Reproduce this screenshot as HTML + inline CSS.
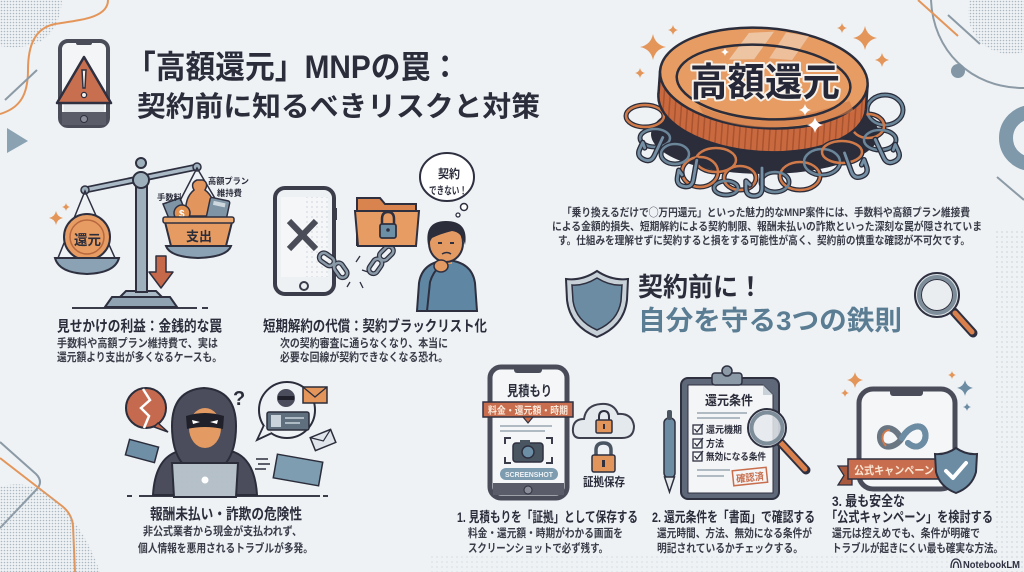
<!DOCTYPE html>
<html lang="ja">
<head>
<meta charset="utf-8">
<style>
html,body{margin:0;padding:0;background:#eef2f5;}
body{width:1024px;height:572px;overflow:hidden;}
svg{display:block;font-family:"Liberation Sans","Noto Sans CJK JP",sans-serif;}
</style>
</head>
<body>
<svg width="1024" height="572" viewBox="0 0 1024 572" xmlns="http://www.w3.org/2000/svg">
<defs>
  <pattern id="dots" width="3" height="3" patternUnits="userSpaceOnUse"><circle cx="1.5" cy="1.5" r="0.8" fill="#9aa8b4"/></pattern>
  <pattern id="dotsL" width="5" height="5" patternUnits="userSpaceOnUse"><circle cx="2" cy="2" r="0.6" fill="#b3bec7"/></pattern>
  <pattern id="ribs" width="6" height="10" patternUnits="userSpaceOnUse"><rect width="6" height="10" fill="#c8693f"/><rect x="4" width="1.5" height="10" fill="#a9532f"/></pattern>
  <symbol id="sp" viewBox="-10 -10 20 20"><path d="M0,-10 Q1.7,-1.7 10,0 Q1.7,1.7 0,10 Q-1.7,1.7 -10,0 Q-1.7,-1.7 0,-10Z"/></symbol>
  <path id="hk" d="M0,-16 L0,4 Q0,12 -8,12 Q-16,12 -16,4 L-16,-3 L-12,1"/>
</defs>

<rect width="1024" height="572" fill="#eef2f5"/>

<!-- ===== decorations ===== -->
<path d="M0,0 L62,0 Q60,30 40,42 Q20,50 0,46 Z" fill="url(#dots)" opacity="0.8"/>
<path d="M108,0 C108,18 80,20 55,24 C35,28 28,45 28,70 C28,95 20,108 0,114" fill="none" stroke="#e4965a" stroke-width="2"/>
<line x1="37" y1="70" x2="5" y2="100" stroke="#8c9aa6" stroke-width="2"/>
<polygon points="7,128 7,153 28,141" fill="#8aa2b2"/>

<path d="M0,442 L36,474 Q44,482 36,490 L0,528" fill="none" stroke="#8c9aa6" stroke-width="2"/>
<path d="M0,458 L62,506 Q72,514 73,526 L75,572" fill="none" stroke="#e4965a" stroke-width="2"/>
<path d="M0,487 Q30,478 55,500 Q85,528 100,572 L0,572 Z" fill="url(#dots)" opacity="0.8"/>

<circle cx="1010" cy="12" r="42" fill="url(#dots)" opacity="0.8"/>
<path d="M931,0 C933,50 970,88 1024,88" fill="none" stroke="#8c9aa6" stroke-width="2"/>
<circle cx="958" cy="71" r="7" fill="#8296a6"/>
<line x1="918" y1="0" x2="958" y2="36" stroke="#e4965a" stroke-width="2"/>
<line x1="948" y1="15" x2="980" y2="44" stroke="#8c9aa6" stroke-width="2"/>
<circle cx="1032" cy="138" r="26" fill="none" stroke="#7f98aa" stroke-width="14"/>
<line x1="997" y1="177" x2="1024" y2="200" stroke="#8c9aa6" stroke-width="2"/>
<rect x="995" y="230" width="29" height="342" fill="url(#dotsL)"/>
<rect x="430" y="556" width="594" height="16" fill="url(#dotsL)" opacity="0.7"/>

<!-- ===== Title ===== -->
<g>
  <rect x="60" y="41" width="48" height="85" rx="8" fill="#f3f5f7" stroke="#4a4c58" stroke-width="4"/>
  <rect x="76" y="41" width="16" height="4" rx="2" fill="#4a4c58"/>
  <rect x="62" y="112" width="44" height="13" fill="#5a5c68"/>
  <circle cx="84" cy="119" r="3.5" fill="#8a8c98" stroke="#2e3040" stroke-width="1"/>
  <rect x="64" y="104" width="40" height="8" fill="#e4e8eb"/>
  <path d="M84,57 L111,103 L57,103 Z" fill="#c86f50" stroke="#2e3040" stroke-width="2.5" stroke-linejoin="round"/>
  <path d="M82,70 L86,70 L85,88 L83,88 Z" fill="#f6efe9" stroke="#2e3040" stroke-width="1.5"/>
  <circle cx="84" cy="95" r="2.6" fill="#f6efe9" stroke="#2e3040" stroke-width="1.3"/>
</g>
<text x="126" y="78" font-size="32" font-weight="700" fill="#2b2d3b" textLength="334" lengthAdjust="spacingAndGlyphs">「高額還元」MNPの罠：</text>
<text x="137" y="116" font-size="28" font-weight="700" fill="#2b2d3b" textLength="403" lengthAdjust="spacingAndGlyphs">契約前に知るべきリスクと対策</text>

<!-- ===== Scale ===== -->
<g>
  <line x1="72" y1="308" x2="197" y2="308" stroke="#3a3c4a" stroke-width="2"/>
  <line x1="202" y1="308" x2="208" y2="308" stroke="#3a3c4a" stroke-width="2"/>
  <path d="M105,307 L112,297 L170,297 L177,307 Z" fill="#8fa3b3" stroke="#2e3040" stroke-width="2"/>
  <path d="M120,297 L126,291 L156,291 L162,297 Z" fill="#a9b9c5" stroke="#2e3040" stroke-width="2"/>
  <rect x="136" y="178" width="11" height="114" fill="#9fb0bd" stroke="#2e3040" stroke-width="2"/>
  <line x1="85" y1="190" x2="197" y2="167" stroke="#2e3040" stroke-width="7" stroke-linecap="round"/>
  <line x1="85" y1="190" x2="197" y2="167" stroke="#a9b9c5" stroke-width="3.5" stroke-linecap="round"/>
  <circle cx="141" cy="180" r="8" fill="#9fb0bd" stroke="#2e3040" stroke-width="2"/>
  <circle cx="141" cy="163" r="5" fill="#9fb0bd" stroke="#2e3040" stroke-width="2"/>
  <circle cx="85" cy="190" r="4" fill="#9fb0bd" stroke="#2e3040" stroke-width="1.5"/>
  <circle cx="197" cy="167" r="4" fill="#9fb0bd" stroke="#2e3040" stroke-width="1.5"/>
  <path d="M58,258 L85,191 L115,258" fill="none" stroke="#2e3040" stroke-width="1.5"/>
  <circle cx="87" cy="237" r="23" fill="#e69c62" stroke="#2e3040" stroke-width="2"/>
  <circle cx="87" cy="237" r="17" fill="none" stroke="#b8683f" stroke-width="1.5"/>
  <text x="74" y="245" font-size="14" font-weight="700" fill="#2b2d3b" textLength="27" lengthAdjust="spacingAndGlyphs">還元</text>
  <path d="M55,258 L119,258 Q115,273 87,274 Q59,273 55,258 Z" fill="#8aa2b4" stroke="#2e3040" stroke-width="2"/>
  <path d="M169,222 L197,168 L229,222" fill="none" stroke="#2e3040" stroke-width="1.5"/>
  <polygon points="163,204 180,198 189,220 172,226" fill="#7f95a6" stroke="#2e3040" stroke-width="1.5"/>
  <path d="M194,190 Q190,183 197,180 L203,180 Q209,183 205,190 Q216,198 214,216 L186,216 Q184,198 194,190 Z" fill="#e2955c" stroke="#2e3040" stroke-width="1.5"/>
  <circle cx="182" cy="213" r="8" fill="#e0904f" stroke="#2e3040" stroke-width="1.5"/>
  <text x="179" y="217" font-size="10" font-weight="700" fill="#fff">$</text>
  <rect x="208" y="199" width="20" height="22" rx="2" fill="#7f95a6" stroke="#2e3040" stroke-width="1.5" transform="rotate(12 218 210)"/>
  <rect x="212" y="202" width="12" height="4" fill="#cfd8df" transform="rotate(12 218 210)"/>
  <path d="M165,222 L232,222 L226,246 L171,246 Z" fill="#e59b61" stroke="#2e3040" stroke-width="2"/>
  <rect x="163" y="217" width="71" height="6" rx="2" fill="#eaa66d" stroke="#2e3040" stroke-width="1.5"/>
  <text x="186" y="241" font-size="13" font-weight="700" fill="#2b2d3b" textLength="26" lengthAdjust="spacingAndGlyphs">支出</text>
  <path d="M166,246 L231,246 Q227,257 198,258 Q170,257 166,246 Z" fill="#8aa2b4" stroke="#2e3040" stroke-width="2"/>
  <path d="M156,256 L166,256 L166,272 L173,272 L161,288 L149,272 L156,272 Z" fill="#c5694a" stroke="#2e3040" stroke-width="1.5" stroke-linejoin="round"/>
  <use href="#sp" x="49" y="211" width="14" height="14" fill="#e4965a"/>
  <use href="#sp" x="62" y="203" width="8" height="8" fill="#e4965a"/>
  <text x="157" y="200" font-size="8" font-weight="700" fill="#2b2d3b" textLength="25" lengthAdjust="spacingAndGlyphs">手数料</text>
  <text x="208" y="184" font-size="8.5" font-weight="700" fill="#2b2d3b" textLength="41" lengthAdjust="spacingAndGlyphs">高額プラン</text>
  <text x="217" y="196" font-size="8.5" font-weight="700" fill="#2b2d3b" textLength="25" lengthAdjust="spacingAndGlyphs">維持費</text>
</g>
<text x="57" y="331" font-size="15" font-weight="700" fill="#2b2d3b" textLength="165" lengthAdjust="spacingAndGlyphs">見せかけの利益：金銭的な罠</text>
<text x="57" y="347" font-size="11.5" font-weight="700" fill="#3a3c48" textLength="161" lengthAdjust="spacingAndGlyphs">手数料や高額プラン維持費で、実は</text>
<text x="57" y="361" font-size="11.5" font-weight="700" fill="#3a3c48" textLength="165" lengthAdjust="spacingAndGlyphs">還元額より支出が多くなるケースも。</text>

<!-- ===== Phone X / blacklist ===== -->
<g>
  <rect x="275" y="188" width="59" height="106" rx="10" fill="#eef1f4" stroke="#3b3d4b" stroke-width="4"/>
  <rect x="281" y="197" width="47" height="80" fill="#f5f6f8"/>
  <rect x="305" y="197" width="23" height="80" fill="url(#dotsL)"/>
  <line x1="289" y1="221" x2="316" y2="249" stroke="#4a4c58" stroke-width="6"/>
  <line x1="316" y1="221" x2="289" y2="249" stroke="#4a4c58" stroke-width="6"/>
  <circle cx="304" cy="286" r="4" fill="none" stroke="#3b3d4b" stroke-width="2"/>
  <rect x="334" y="208" width="3" height="12" fill="#3b3d4b"/>
  <g fill="none" stroke="#2e3040" stroke-width="5">
    <rect x="319" y="255" width="16" height="9" rx="4.5" transform="rotate(35 327 259)"/>
    <rect x="333" y="266" width="16" height="9" rx="4.5" transform="rotate(55 341 270)"/>
    <rect x="367" y="262" width="16" height="9" rx="4.5" transform="rotate(-55 375 266)"/>
    <rect x="378" y="249" width="16" height="9" rx="4.5" transform="rotate(-45 386 253)"/>
  </g>
  <g fill="none" stroke="#8a9aa7" stroke-width="2.5">
    <rect x="319" y="255" width="16" height="9" rx="4.5" transform="rotate(35 327 259)"/>
    <rect x="333" y="266" width="16" height="9" rx="4.5" transform="rotate(55 341 270)"/>
    <rect x="367" y="262" width="16" height="9" rx="4.5" transform="rotate(-55 375 266)"/>
    <rect x="378" y="249" width="16" height="9" rx="4.5" transform="rotate(-45 386 253)"/>
  </g>
  <g stroke="#2e3040" stroke-width="1.3">
    <line x1="356" y1="262" x2="360" y2="256"/><line x1="350" y1="282" x2="347" y2="287"/>
    <line x1="360" y1="282" x2="363" y2="288"/><line x1="362" y1="270" x2="368" y2="272"/>
  </g>
  <path d="M357,198 L380,198 L385,204 L416,204 L416,245 L357,245 Z" fill="#d9844f" stroke="#2e3040" stroke-width="2"/>
  <path d="M355,211 L419,211 L416,246 L358,246 Z" fill="#e69c62" stroke="#2e3040" stroke-width="2"/>
  <path d="M382,225 V219 Q382,212 388,212 Q394,212 394,219 V225" fill="none" stroke="#2e3040" stroke-width="2.5"/>
  <rect x="380" y="224" width="16" height="14" rx="2" fill="#6d8fa6" stroke="#2e3040" stroke-width="1.8"/>
  <circle cx="388" cy="230" r="1.8" fill="#2e3040"/>
  <path d="M417,311 L419,283 Q422,262 447,260 Q472,262 475,283 L477,311 Z" fill="#5f87a4" stroke="#2e3040" stroke-width="2"/>
  <rect x="441" y="255" width="11" height="9" fill="#e49a63"/>
  <ellipse cx="446" cy="243" rx="17" ry="19" fill="#e49a63" stroke="#2e3040" stroke-width="2"/>
  <path d="M428,245 Q424,221 446,221 Q469,221 465,245 Q462,232 452,231 Q440,234 432,238 Z" fill="#2b2d3b"/>
  <line x1="438" y1="243" x2="442" y2="243" stroke="#2e3040" stroke-width="2"/>
  <line x1="450" y1="243" x2="454" y2="243" stroke="#2e3040" stroke-width="2"/>
  <path d="M442,254 Q447,251 451,254" fill="none" stroke="#2e3040" stroke-width="1.5"/>
  <path d="M427,311 L430,282 Q433,272 440,266" fill="none" stroke="#2e3040" stroke-width="2"/>
  <ellipse cx="441" cy="266" rx="7" ry="6" fill="#e49a63" stroke="#2e3040" stroke-width="1.5"/>
  <ellipse cx="447" cy="177" rx="27" ry="24" fill="#ffffff" stroke="#2e3040" stroke-width="2"/>
  <circle cx="464" cy="207" r="3.5" fill="#fff" stroke="#2e3040" stroke-width="1.5"/>
  <circle cx="458" cy="215" r="2" fill="#fff" stroke="#2e3040" stroke-width="1.3"/>
  <text x="438" y="178" font-size="12" font-weight="700" fill="#2b2d3b" textLength="22" lengthAdjust="spacingAndGlyphs">契約</text>
  <text x="429" y="194" font-size="10.5" font-weight="700" fill="#2b2d3b" textLength="38" lengthAdjust="spacingAndGlyphs">できない！</text>
</g>
<text x="263" y="331" font-size="15" font-weight="700" fill="#2b2d3b" textLength="224" lengthAdjust="spacingAndGlyphs">短期解約の代償：契約ブラックリスト化</text>
<text x="280" y="347" font-size="11.5" font-weight="700" fill="#3a3c48" textLength="168" lengthAdjust="spacingAndGlyphs">次の契約審査に通らなくなり、本当に</text>
<text x="280" y="361" font-size="11.5" font-weight="700" fill="#3a3c48" textLength="168" lengthAdjust="spacingAndGlyphs">必要な回線が契約できなくなる恐れ。</text>

<!-- ===== Hacker ===== -->
<g>
  <line x1="127" y1="496" x2="132" y2="496" stroke="#3a3c4a" stroke-width="2"/>
  <line x1="139" y1="496" x2="320" y2="496" stroke="#3a3c4a" stroke-width="2"/>
  <line x1="323" y1="496" x2="328" y2="496" stroke="#3a3c4a" stroke-width="2"/>
  <path d="M153,495 Q155,460 176,452 L234,452 Q255,460 257,495 Z" fill="#4b4d5c" stroke="#2b2d3b" stroke-width="2"/>
  <path d="M204,388 Q172,390 172,426 Q172,450 182,463 L226,463 Q236,450 236,426 Q236,390 204,388 Z" fill="#4b4d5c" stroke="#2b2d3b" stroke-width="2"/>
  <ellipse cx="205" cy="428" rx="16" ry="20" fill="#e39b63"/>
  <path d="M186,416 Q205,410 224,416 L223,429 Q205,425 187,429 Z" fill="#1f2029"/>
  <path d="M192,420 L200,422 L193,424 Z M218,420 L210,422 L217,424 Z" fill="#ffffff"/>
  <path d="M172,463 L238,463 L236,497 L174,497 Z" fill="#b5c0c9" stroke="#2b2d3b" stroke-width="2"/>
  <rect x="176" y="466" width="58" height="28" fill="url(#dotsL)"/>
  <circle cx="205" cy="480" r="3.5" fill="#ffffff"/>
  <circle cx="146" cy="408" r="20" fill="#c56a4e" stroke="#2b2d3b" stroke-width="2"/>
  <path d="M158,423 L168,432 L154,427 Z" fill="#c56a4e" stroke="#2b2d3b" stroke-width="1.5"/>
  <polyline points="143,389 150,400 141,408 149,416 144,428" fill="none" stroke="#ffffff" stroke-width="2.5"/>
  <text x="233" y="405" font-size="20" font-weight="700" fill="#2b2d3b">?</text>
  <circle cx="287" cy="410" r="28" fill="#eef2f5" stroke="#2b2d3b" stroke-width="2"/>
  <path d="M264,425 L257,440 L272,433" fill="#eef2f5" stroke="#2b2d3b" stroke-width="1.8"/>
  <circle cx="286" cy="398" r="9" fill="#4b4d5c"/>
  <rect x="278" y="396" width="16" height="4" fill="#1f2029"/>
  <rect x="267" y="412" width="42" height="18" rx="2" fill="#5f6f7d" stroke="#2b2d3b" stroke-width="1.5"/>
  <rect x="271" y="415" width="10" height="12" fill="#c9d3db"/>
  <line x1="285" y1="418" x2="304" y2="418" stroke="#c9d3db" stroke-width="1.5"/>
  <line x1="285" y1="423" x2="300" y2="423" stroke="#c9d3db" stroke-width="1.5"/>
  <rect x="303" y="387" width="24" height="16" fill="#e4965a" stroke="#2b2d3b" stroke-width="1.5"/>
  <polyline points="303,387 315,397 327,387" fill="none" stroke="#2b2d3b" stroke-width="1.3"/>
  <g transform="rotate(-22 323 440)"><rect x="312" y="433" width="22" height="14" fill="#dfe5ea" stroke="#2b2d3b" stroke-width="1.5"/><polyline points="312,433 323,441 334,433" fill="none" stroke="#2b2d3b" stroke-width="1.2"/></g>
  <rect x="127" y="443" width="30" height="16" fill="#6f8fa6" stroke="#2b2d3b" stroke-width="1.5" transform="rotate(15 142 451)"/>
  <rect x="275" y="458" width="46" height="24" fill="#7f9db1" stroke="#2b2d3b" stroke-width="1.5" transform="rotate(10 298 470)"/>
  <g stroke="#2b2d3b" stroke-width="1.5"><line x1="256" y1="459" x2="268" y2="459"/><line x1="258" y1="464" x2="270" y2="464"/><line x1="255" y1="469" x2="266" y2="469"/></g>
</g>
<text x="150" y="519" font-size="15" font-weight="700" fill="#2b2d3b" textLength="152" lengthAdjust="spacingAndGlyphs">報酬未払い・詐欺の危険性</text>
<text x="143" y="535" font-size="11.5" font-weight="700" fill="#3a3c48" textLength="159" lengthAdjust="spacingAndGlyphs">非公式業者から現金が支払われず、</text>
<text x="138" y="552" font-size="11.5" font-weight="700" fill="#3a3c48" textLength="175" lengthAdjust="spacingAndGlyphs">個人情報を悪用されるトラブルが多発。</text>

<!-- ===== Coin ===== -->
<g>
  <ellipse cx="765" cy="134" rx="114" ry="40" fill="#2b2d3b"/>
  <g fill="none" stroke-linecap="round">
    <g stroke="#2b2d3b" stroke-width="5">
      <ellipse cx="645" cy="116" rx="19" ry="11"/>
      <ellipse cx="885" cy="110" rx="18" ry="15"/>
      <ellipse cx="868" cy="126" rx="16" ry="12"/>
      <ellipse cx="655" cy="138" rx="15" ry="9"/>
      <ellipse cx="880" cy="140" rx="16" ry="10"/>
    </g>
    <g stroke-width="2.5">
      <ellipse cx="645" cy="116" rx="19" ry="11" stroke="#d07a4a"/>
      <ellipse cx="885" cy="110" rx="18" ry="15" stroke="#6b8599"/>
      <ellipse cx="868" cy="126" rx="16" ry="12" stroke="#d07a4a"/>
      <ellipse cx="655" cy="138" rx="15" ry="9" stroke="#6b8599"/>
      <ellipse cx="880" cy="140" rx="16" ry="10" stroke="#6b8599"/>
    </g>
  </g>
  <g transform="rotate(4 763 90)">
    <ellipse cx="763" cy="102" rx="104" ry="50" fill="url(#ribs)" stroke="#2b2d3b" stroke-width="2.5"/>
    <rect x="659" y="78" width="208" height="24" fill="url(#ribs)"/>
    <line x1="659" y1="78" x2="659" y2="102" stroke="#2b2d3b" stroke-width="2.5"/>
    <line x1="867" y1="78" x2="867" y2="102" stroke="#2b2d3b" stroke-width="2.5"/>
    <ellipse cx="763" cy="78" rx="104" ry="50" fill="#e69c62" stroke="#2b2d3b" stroke-width="2.5"/>
    <path d="M745,34 L770,31 L752,60 L727,62 Z" fill="#f1d7bf" opacity="0.7"/>
    <path d="M782,31 L805,33 L790,58 L767,58 Z" fill="#f1d7bf" opacity="0.6"/>
    <path d="M700,110 Q760,135 850,95 L855,105 Q770,142 705,118 Z" fill="#d27c4a" opacity="0.6"/>
    <ellipse cx="763" cy="82" rx="87" ry="37" fill="none" stroke="#2b2d3b" stroke-width="2.5"/>
  </g>
  <text x="690" y="96" font-size="39" font-weight="700" fill="#262838" stroke="#f6f1ea" stroke-width="4" paint-order="stroke" stroke-linejoin="round" textLength="150" lengthAdjust="spacingAndGlyphs">高額還元</text>
  <use href="#sp" x="799" y="104" width="12" height="12" fill="#ffffff"/>
  <use href="#sp" x="807" y="117" width="16" height="16" fill="#ffffff"/>
  <use href="#sp" x="721" y="48" width="8" height="8" fill="#ffffff"/>
  <g fill="none" stroke-linecap="round" stroke-linejoin="round">
    <g stroke="#2b2d3b" stroke-width="5">
      <ellipse cx="700" cy="172" rx="18" ry="15"/>
      <ellipse cx="740" cy="178" rx="16" ry="12"/>
      <ellipse cx="800" cy="176" rx="20" ry="14"/>
      <ellipse cx="675" cy="154" rx="14" ry="10"/>
      <ellipse cx="822" cy="162" rx="18" ry="13"/>
      <ellipse cx="775" cy="182" rx="14" ry="10"/>
      <ellipse cx="716" cy="160" rx="20" ry="12"/>
      <ellipse cx="842" cy="152" rx="20" ry="11"/>
      <ellipse cx="726" cy="188" rx="12" ry="7"/>
    </g>
    <g stroke-width="2.5">
      <ellipse cx="700" cy="172" rx="18" ry="15" stroke="#d07a4a"/>
      <ellipse cx="740" cy="178" rx="16" ry="12" stroke="#d07a4a"/>
      <ellipse cx="800" cy="176" rx="20" ry="14" stroke="#d07a4a"/>
      <ellipse cx="675" cy="154" rx="14" ry="10" stroke="#6b8599"/>
      <ellipse cx="822" cy="162" rx="18" ry="13" stroke="#6b8599"/>
      <ellipse cx="775" cy="182" rx="14" ry="10" stroke="#6b8599"/>
      <ellipse cx="716" cy="160" rx="20" ry="12" stroke="#d07a4a"/>
      <ellipse cx="842" cy="152" rx="20" ry="11" stroke="#d07a4a"/>
      <ellipse cx="726" cy="188" rx="12" ry="7" stroke="#6b8599"/>
    </g>
    <g stroke="#2b2d3b" stroke-width="5.5">
      <use href="#hk" transform="translate(656,152) rotate(25)"/>
      <use href="#hk" transform="translate(694,176) rotate(10)"/>
      <use href="#hk" transform="translate(762,184)"/>
      <use href="#hk" transform="translate(850,168) scale(-1,1) rotate(20)"/>
      <use href="#hk" transform="translate(882,154) scale(-1,1) rotate(25)"/>
    </g>
    <g stroke="#7590a4" stroke-width="2.8">
      <use href="#hk" transform="translate(656,152) rotate(25)"/>
      <use href="#hk" transform="translate(694,176) rotate(10)"/>
      <use href="#hk" transform="translate(762,184)"/>
      <use href="#hk" transform="translate(850,168) scale(-1,1) rotate(20)"/>
      <use href="#hk" transform="translate(882,154) scale(-1,1) rotate(25)"/>
    </g>
  </g>
  <use href="#sp" x="640" y="34" width="26" height="26" fill="#e4965a"/>
  <use href="#sp" x="668" y="25" width="10" height="10" fill="#e4965a"/>
  <use href="#sp" x="635" y="68" width="10" height="10" fill="#e4965a"/>
  <use href="#sp" x="837" y="23" width="10" height="10" fill="#e4965a"/>
  <use href="#sp" x="853" y="26" width="24" height="24" fill="#e4965a"/>
  <use href="#sp" x="875" y="53" width="14" height="14" fill="#e4965a"/>
</g>
<text x="562" y="216" font-size="11" font-weight="700" fill="#3a3c48" textLength="408" lengthAdjust="spacingAndGlyphs">「乗り換えるだけで◯万円還元」といった魅力的なMNP案件には、手数料や高額プラン維接費</text>
<text x="552" y="230" font-size="11" font-weight="700" fill="#3a3c48" textLength="430" lengthAdjust="spacingAndGlyphs">による金額的損失、短期解約による契約制限、報酬未払いの詐欺といった深刻な罠が隠されていま</text>
<text x="558" y="244" font-size="11" font-weight="700" fill="#3a3c48" textLength="412" lengthAdjust="spacingAndGlyphs">す。仕組みを理解せずに契約すると損をする可能性が高く、契約前の慎重な確認が不可欠です。</text>

<!-- ===== Shield heading ===== -->
<g>
  <path d="M597,271 Q582,281 566,279 L567,300 Q570,326 597,337 Q624,326 627,300 L628,279 Q612,281 597,271 Z" fill="#c8d0d7" stroke="#2e3040" stroke-width="2"/>
  <path d="M597,278 Q584,286 572,285 L573,301 Q576,321 597,330 Q618,321 621,301 L622,285 Q610,286 597,278 Z" fill="#6b8ca3" stroke="#2e3040" stroke-width="1.5"/>
</g>
<text x="638" y="296" font-size="26" font-weight="700" fill="#2b2d3b" textLength="125" lengthAdjust="spacingAndGlyphs">契約前に！</text>
<text x="638" y="330" font-size="27" font-weight="700" fill="#5b7d93" textLength="264" lengthAdjust="spacingAndGlyphs">自分を守る3つの鉄則</text>
<g>
  <line x1="954" y1="312" x2="973" y2="333" stroke="#2e3040" stroke-width="9" stroke-linecap="round"/>
  <line x1="955" y1="313" x2="972" y2="332" stroke="#d9804c" stroke-width="5" stroke-linecap="round"/>
  <circle cx="937" cy="295" r="22" fill="#dfe5ea" stroke="#2e3040" stroke-width="2"/>
  <circle cx="937" cy="295" r="18" fill="#e9edf0" stroke="#7d8d99" stroke-width="4"/>
  <circle cx="937" cy="295" r="15.5" fill="none" stroke="#2e3040" stroke-width="1"/>
</g>

<!-- ===== Column 1 ===== -->
<g>
  <rect x="490" y="367" width="77" height="131" rx="11" fill="#f4f6f8" stroke="#4a4c5a" stroke-width="5"/>
  <rect x="514" y="366" width="28" height="7" rx="3" fill="#4a4c5a"/>
  <rect x="493" y="483" width="71" height="12" fill="#5a5c6a"/>
  <circle cx="528" cy="490" r="4" fill="#8a8c98" stroke="#2e3040" stroke-width="1"/>
  <text x="507" y="396" font-size="14" font-weight="700" fill="#2b2d3b" textLength="45" lengthAdjust="spacingAndGlyphs">見積もり</text>
  <rect x="483" y="402" width="90" height="15" fill="#c86e4e" stroke="#2e3040" stroke-width="1.5"/>
  <polygon points="523,417 533,417 528,423" fill="#c86e4e" stroke="#2e3040" stroke-width="1.2"/>
  <text x="488" y="414" font-size="10" font-weight="700" fill="#fbe9dc" textLength="80" lengthAdjust="spacingAndGlyphs">料金・還元額・時期</text>
  <line x1="500" y1="426" x2="552" y2="426" stroke="#9aa6b0" stroke-width="1.5"/>
  <line x1="500" y1="431" x2="545" y2="431" stroke="#9aa6b0" stroke-width="1.5"/>
  <path d="M505,444 V438 H511 M546,438 H552 V444 M552,457 V463 H546 M511,463 H505 V457" fill="none" stroke="#3b3d4b" stroke-width="2"/>
  <rect x="513" y="443" width="30" height="19" rx="3" fill="#4a5562" stroke="#2e3040" stroke-width="1.5"/>
  <rect x="520" y="440" width="10" height="4" fill="#4a5562"/>
  <circle cx="528" cy="452" r="6" fill="#6d8fa6" stroke="#2e3040" stroke-width="1.5"/>
  <rect x="500" y="468" width="58" height="12" rx="6" fill="#7d9cb0"/>
  <text x="505" y="477" font-size="7" font-weight="700" fill="#eef2f5" textLength="48" lengthAdjust="spacingAndGlyphs">SCREENSHOT</text>
  <path d="M580,438 Q572,438 573,428 Q574,419 584,419 Q586,405 601,404 Q614,403 618,414 Q632,413 634,426 Q634,438 622,438 Z" fill="#e4e9ed" stroke="#3d3f4d" stroke-width="2"/>
  <path d="M599,421 V417 Q599,411 604,411 Q609,411 609,417 V421" fill="none" stroke="#2e3040" stroke-width="2"/>
  <rect x="596" y="420" width="16" height="13" rx="1.5" fill="#e2955b" stroke="#2e3040" stroke-width="1.5"/>
  <rect x="603" y="424" width="2" height="5" fill="#2e3040"/>
  <path d="M596,456 V450 Q596,443 603.5,443 Q611,443 611,450 V456" fill="none" stroke="#4a5562" stroke-width="3.5"/>
  <rect x="592" y="455" width="23" height="17" rx="2" fill="#e2955b" stroke="#2e3040" stroke-width="1.5"/>
  <rect x="602" y="460" width="3" height="7" fill="#2e3040"/>
  <text x="583" y="486" font-size="12" font-weight="700" fill="#2b2d3b" textLength="42" lengthAdjust="spacingAndGlyphs">証拠保存</text>
</g>
<text x="457" y="522" font-size="14" font-weight="700" fill="#2b2d3b" textLength="181" lengthAdjust="spacingAndGlyphs">1. 見積もりを「証拠」として保存する</text>
<text x="468" y="537" font-size="11.5" font-weight="700" fill="#3a3c48" textLength="155" lengthAdjust="spacingAndGlyphs">料金・還元額・時期がわかる画面を</text>
<text x="468" y="552" font-size="11.5" font-weight="700" fill="#3a3c48" textLength="140" lengthAdjust="spacingAndGlyphs">スクリーンショットで必ず残す。</text>

<!-- ===== Column 2 ===== -->
<g>
  <rect x="664" y="418" width="11" height="60" rx="5" fill="#6b8ca3" stroke="#2e3040" stroke-width="1.5"/>
  <rect x="667" y="410" width="5" height="10" rx="2" fill="#4a5562"/>
  <polygon points="664.5,477 674.5,477 669.5,492" fill="#e6e9ec" stroke="#2e3040" stroke-width="1.5"/>
  <rect x="681" y="378" width="98" height="121" rx="7" fill="#5e6878" stroke="#2e3040" stroke-width="2"/>
  <path d="M688,385 L763,385 L773,395 L773,493 L688,493 Z" fill="#f4f5f6" stroke="#2e3040" stroke-width="1"/>
  <path d="M763,385 L763,395 L773,395 Z" fill="#c9d1d8"/>
  <rect x="712" y="373" width="30" height="12" rx="3" fill="#8b9aa6" stroke="#2e3040" stroke-width="1.5"/>
  <circle cx="727" cy="371" r="5" fill="#8b9aa6" stroke="#2e3040" stroke-width="1.5"/>
  <text x="705" y="405" font-size="13" font-weight="700" fill="#2b2d3b" textLength="48" lengthAdjust="spacingAndGlyphs">還元条件</text>
  <line x1="697" y1="413" x2="747" y2="413" stroke="#9aa6b0" stroke-width="1.5"/>
  <line x1="697" y1="418" x2="740" y2="418" stroke="#9aa6b0" stroke-width="1.5"/>
  <g fill="none" stroke="#2e3040" stroke-width="1.3">
    <rect x="693" y="425" width="9" height="9"/><rect x="693" y="439" width="9" height="9"/><rect x="693" y="452" width="9" height="9"/>
    <polyline points="694.5,429 697,432 703,424"/><polyline points="694.5,443 697,446 703,438"/><polyline points="694.5,456 697,459 703,451"/>
  </g>
  <text x="706" y="433" font-size="9.5" font-weight="700" fill="#2b2d3b" textLength="36" lengthAdjust="spacingAndGlyphs">還元機期</text>
  <text x="706" y="447" font-size="9.5" font-weight="700" fill="#2b2d3b" textLength="18" lengthAdjust="spacingAndGlyphs">方法</text>
  <text x="706" y="460" font-size="9.5" font-weight="700" fill="#2b2d3b" textLength="60" lengthAdjust="spacingAndGlyphs">無効になる条件</text>
  <line x1="697" y1="470" x2="730" y2="470" stroke="#9aa6b0" stroke-width="1.5"/>
  <line x1="697" y1="476" x2="724" y2="476" stroke="#9aa6b0" stroke-width="1.5"/>
  <g transform="rotate(-6 750 477)">
    <rect x="733" y="469" width="34" height="15" fill="none" stroke="#c86e4e" stroke-width="1.5"/>
    <text x="736" y="481" font-size="10" font-weight="700" fill="#c86e4e" textLength="28" lengthAdjust="spacingAndGlyphs">確認済</text>
  </g>
  <line x1="780" y1="442" x2="806" y2="470" stroke="#2e3040" stroke-width="9" stroke-linecap="round"/>
  <line x1="781" y1="443" x2="805" y2="469" stroke="#d9804c" stroke-width="5" stroke-linecap="round"/>
  <circle cx="767" cy="428" r="19" fill="#e4e9ed" fill-opacity="0.85" stroke="#2e3040" stroke-width="2"/>
  <circle cx="767" cy="428" r="15.5" fill="none" stroke="#7d8d99" stroke-width="4"/>
</g>
<text x="652" y="522" font-size="14" font-weight="700" fill="#2b2d3b" textLength="163" lengthAdjust="spacingAndGlyphs">2. 還元条件を「書面」で確認する</text>
<text x="657" y="537" font-size="11.5" font-weight="700" fill="#3a3c48" textLength="155" lengthAdjust="spacingAndGlyphs">還元時間、方法、無効になる条件が</text>
<text x="657" y="552" font-size="11.5" font-weight="700" fill="#3a3c48" textLength="146" lengthAdjust="spacingAndGlyphs">明記されているかチェックする。</text>

<!-- ===== Column 3 ===== -->
<g>
  <use href="#sp" x="847" y="372" width="16" height="16" fill="#e4965a"/>
  <use href="#sp" x="841" y="389" width="8" height="8" fill="#e4965a"/>
  <use href="#sp" x="948" y="371" width="8" height="8" fill="#e4965a"/>
  <use href="#sp" x="957" y="380" width="16" height="16" fill="#6b8ca3"/>
  <use href="#sp" x="963" y="403" width="8" height="8" fill="#6b8ca3"/>
  <rect x="859" y="389" width="96" height="100" rx="14" fill="#f4f6f8" stroke="#4a4c5a" stroke-width="5"/>
  <rect x="890" y="387" width="33" height="9" rx="3" fill="#4a4c5a"/>
  <path d="M900,437 C893,424 879,426 880,438 C881,450 895,449 902,438 C909,426 922,422 925,432 C928,442 918,452 908,443" fill="none" stroke="#6b7683" stroke-width="6" stroke-linecap="round"/>
  <path d="M902,438 C909,426 922,422 925,432 C928,442 918,452 908,443" fill="none" stroke="#6b8ca3" stroke-width="6" stroke-linecap="round"/>
  <path d="M886,446 C880,440 882,430 890,430" fill="none" stroke="#d07a4a" stroke-width="2"/>
  <polygon points="838,466 852,466 852,485 838,485 844,475.5" fill="#a95a3e" stroke="#2e3040" stroke-width="1.3"/>
  <rect x="848" y="459" width="94" height="20" fill="#c86e4e" stroke="#2e3040" stroke-width="1.5"/>
  <text x="854" y="474" font-size="11" font-weight="700" fill="#fbe6d4" textLength="80" lengthAdjust="spacingAndGlyphs">公式キャンペーン</text>
  <path d="M956,448 Q946,455 935,454 L936,472 Q940,487 956,493 Q972,487 976,472 L977,454 Q966,455 956,448 Z" fill="#6b8ca3" stroke="#2e3040" stroke-width="2"/>
  <polyline points="946,471 953,478 966,463" fill="none" stroke="#ffffff" stroke-width="4" stroke-linecap="round" stroke-linejoin="round"/>
</g>
<text x="832" y="506" font-size="14" font-weight="700" fill="#2b2d3b" textLength="73" lengthAdjust="spacingAndGlyphs">3. 最も安全な</text>
<text x="826" y="522" font-size="14" font-weight="700" fill="#2b2d3b" textLength="167" lengthAdjust="spacingAndGlyphs">「公式キャンペーン」を検討する</text>
<text x="832" y="537" font-size="11.5" font-weight="700" fill="#3a3c48" textLength="148" lengthAdjust="spacingAndGlyphs">還元は控えめでも、条件が明確で</text>
<text x="832" y="552" font-size="11.5" font-weight="700" fill="#3a3c48" textLength="171" lengthAdjust="spacingAndGlyphs">トラブルが起きにくい最も確実な方法。</text>

<!-- NotebookLM -->
<g fill="none" stroke="#2e3040" stroke-width="1.3">
  <path d="M951,568 Q951,559 956,559 Q961,559 961,568"/>
  <path d="M953.5,568 Q953.5,562 956,562 Q958.5,562 958.5,568"/>
</g>
<text x="963" y="568" font-size="10" font-weight="700" fill="#2e3040" textLength="57" lengthAdjust="spacingAndGlyphs">NotebookLM</text>
</svg>
</body>
</html>
